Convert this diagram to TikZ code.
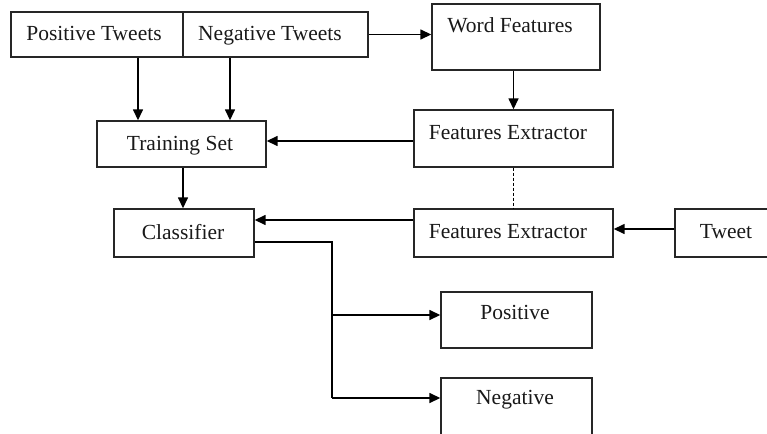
\documentclass[tikz,border=0pt]{standalone}
\usepackage{fontspec}
\setmainfont{Liberation Serif}
\usetikzlibrary{arrows.meta}
\begin{document}
\begin{tikzpicture}[x=1pt,y=-1pt,
  box/.style={draw=black!85,line width=1.4pt,inner sep=0pt,rectangle},
  lbl/.style={anchor=base,inner sep=0pt,font=\fontsize{21.5}{25}\selectfont,text=black!90},
  arr/.style={line width=1.5pt,draw=black,-{Triangle[length=11pt,width=10pt]}},
  conn/.style={line width=1.5pt,draw=black}]
\useasboundingbox (0,0) rectangle (767,433);
\fill[white] (0,0) rectangle (767,433);
% boxes
\node[box,minimum width=172pt,minimum height=45pt] (pos) at (97,34.5) {};
\node[box,minimum width=185pt,minimum height=45pt] (neg) at (275.5,34.5) {};
\node[box,minimum width=168pt,minimum height=66pt] (wf) at (516,37) {};
\node[box,minimum width=199pt,minimum height=57pt] (fe1) at (513.5,138.5) {};
\node[box,minimum width=169pt,minimum height=46pt] (ts) at (181.5,144) {};
\node[box,minimum width=140pt,minimum height=48pt] (cl) at (184,233) {};
\node[box,minimum width=199pt,minimum height=48pt] (fe2) at (513.5,233) {};
\node[box,minimum width=115pt,minimum height=48pt] (tw) at (732.5,233) {};
\node[box,minimum width=151pt,minimum height=56pt] (po) at (516.5,320) {};
\node[box,minimum width=151pt,minimum height=72pt] (ne) at (516.5,414) {};
% labels
\node[lbl] (tpos) at (94,41) {Positive Tweets};
\node[lbl] (tneg) at (270,41) {Negative Tweets};
\node[lbl] (twf) at (510,33) {Word Features};
\node[lbl] (tfe1) at (508,139) {Features Extractor};
\node[lbl] (tts) at (180,150) {Training Set};
\node[lbl] (tcl) at (183,239) {Classifier};
\node[lbl] (tfe2) at (508,238) {Features Extractor};
\node[lbl] (ttw) at (726,238) {Tweet};
\node[lbl] (tpo) at (515,319) {Positive};
\node[lbl] (tne) at (515,404) {Negative};
% connectors
\draw[arr] (neg.east) -- (wf.west |- neg.east);
\draw[arr] (fe1.north |- wf.south) -- (fe1.north);
\coordinate (tsin) at ([yshift=3pt]ts.east);
\draw[arr] (tsin -| fe1.west) -- (tsin);
\draw[arr] ([xshift=41pt]pos.south) -- ([xshift=41pt]pos.south |- ts.north);
\draw[arr] ([xshift=-45.5pt]neg.south) -- ([xshift=-45.5pt]neg.south |- ts.north);
\draw[arr] ([xshift=1.5pt]ts.south) -- ([xshift=1.5pt]ts.south |- cl.north);
\draw[conn,line width=0.9pt,dash pattern=on 3pt off 2pt] (fe1.south) -- (fe2.north);
\draw[arr] ([yshift=13pt]fe2.west) -- ([yshift=13pt]cl.east);
\draw[arr] ([yshift=4pt]tw.west) -- ([yshift=4pt]fe2.east);
\coordinate (jt) at (332,242);
\coordinate (jm) at (332,315);
\coordinate (jb) at (332,398);
\draw[conn] ([yshift=-9pt]cl.east) -- (jt) -- (jb);
\draw[arr] (jm) -- ([yshift=5pt]po.west);
\draw[arr] (jb) -- ([yshift=16pt]ne.west);
\end{tikzpicture}
\end{document}
